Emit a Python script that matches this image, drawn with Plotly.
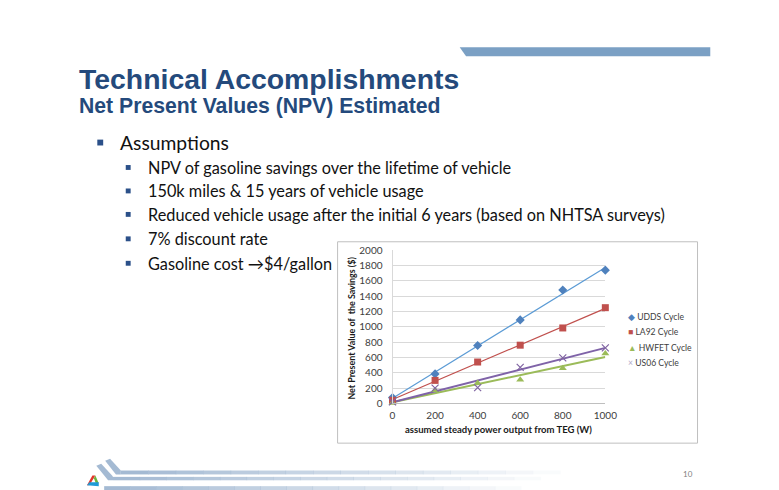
import numpy as np
import plotly.graph_objects as go

W, H = 779, 490

# ---------------- data ----------------
power_w = [0, 200, 400, 600, 800, 1000]
udds = [75, 385, 755, 1090, 1480, 1740]
la92 = [40, 300, 540, 760, 985, 1250]
hwfet = [5, 170, 265, 310, 460, 650]
us06 = [20, 200, 205, 470, 595, 725]

series_names = ["UDDS Cycle", "LA92 Cycle", "HWFET Cycle", "US06 Cycle"]
legend_glyphs = ["\u25C6", "\u25A0", "\u25B2", "\u00D7"]
x_ticks = [0, 200, 400, 600, 800, 1000]
y_ticks = [0, 200, 400, 600, 800, 1000, 1200, 1400, 1600, 1800, 2000]

title_text = "Technical Accomplishments"
subtitle_text = "Net Present Values (NPV) Estimated"
main_bullet = "Assumptions"
sub_bullets = [
    "NPV of gasoline savings over the lifetime of vehicle",
    "150k miles &amp; 15 years of vehicle usage",
    "Reduced vehicle usage after the initial 6 years (based on NHTSA surveys)",
    "7% discount rate",
    "Gasoline cost \u2192$4/gallon",
]
y_title = "Net Present Value of  the Savings ($)"
x_title = "assumed steady power output from TEG (W)"
page_no = "10"


def px(x):
    return x / W


def py(y):
    return 1 - y / H


# ---------------- chart ----------------
fig = go.Figure()

styles = [
    (udds, "#4F81BD", "#5B9BD5", 1.2, dict(symbol="diamond", size=7)),
    (la92, "#C0504D", "#C0504D", 1.2, dict(symbol="square", size=7)),
    (hwfet, "#9BBB59", "#9BBB59", 2.0, dict(symbol="triangle-up", size=7)),
    (us06, "#8064A2", "#7F63A8", 2.0, dict(symbol="x-thin", size=7, line=dict(width=1.2, color="#8064A2"))),
]

for (vals, mcol, lcol, lw, mk), name in zip(styles, series_names):
    slope, icpt = np.polyfit(power_w, vals, 1)
    xs = [min(power_w), max(power_w)]
    fig.add_trace(go.Scatter(x=xs, y=[icpt + slope * v for v in xs], mode="lines",
                             line=dict(color=lcol, width=lw), showlegend=False,
                             hoverinfo="skip", cliponaxis=False))
for (vals, mcol, lcol, lw, mk), name in zip(styles, series_names):
    mk = dict(mk)
    mk["color"] = mcol
    fig.add_trace(go.Scatter(x=power_w, y=vals, mode="markers", name=name,
                             marker=mk, cliponaxis=False, showlegend=False))

font_chart = "Lato, 'Open Sans', sans-serif"

fig.update_layout(
    width=W, height=H,
    margin=dict(l=0, r=0, t=0, b=0),
    paper_bgcolor="white", plot_bgcolor="white",
    showlegend=False,
    xaxis=dict(domain=[px(389), px(606)], range=[0, 1000], tickvals=x_ticks,
               showgrid=False, zeroline=False, showline=True, linecolor="#BFBFBF",
               linewidth=1, ticks="", tickfont=dict(family=font_chart, size=10, color="#404040"),
               ticklabelstandoff=3),
    yaxis=dict(domain=[py(398.3), py(241.7)], range=[0, 2000], tickvals=y_ticks,
               showgrid=True, gridcolor="#D9D9D9", gridwidth=1, zeroline=False,
               showline=True, linecolor="#D9D9D9", ticks="",
               tickfont=dict(family=font_chart, size=10, color="#404040"),
               ticklabelstandoff=7),
)

# ---------------- shapes ----------------
shapes = []
# chart border
shapes.append(dict(type="rect", xref="paper", yref="paper", x0=px(333), x1=px(700),
                   y0=py(439), y1=py(233), line=dict(color="#BFBFBF", width=1)))
# top right bar
shapes.append(dict(type="path", xref="paper", yref="paper",
                   path=f"M {px(457.5)} {py(34)} L {px(713)} {py(34)} L {px(713)} {py(43.3)} L {px(464)} {py(43.3)} Z",
                   fillcolor="#7BA0C4", line=dict(width=0)))
# bullets
shapes.append(dict(type="rect", xref="paper", yref="paper", x0=px(88), x1=px(94),
                   y0=py(134.5), y1=py(128.5), fillcolor="#2B5089", line=dict(width=0)))
sub_y = [157, 181, 205, 230, 255]
for yy in sub_y:
    shapes.append(dict(type="rect", xref="paper", yref="paper", x0=px(117), x1=px(122),
                       y0=py(yy + 2.5), y1=py(yy - 2.5), fillcolor="#2B5089", line=dict(width=0)))

# footer chevrons (slanted parts)
band_col = "#A4BAD3"
shapes.append(dict(type="path", xref="paper", yref="paper",
                   path=f"M {px(96)} {py(457)} L {px(101)} {py(455)} L {px(112)} {py(467)} L {px(112)} {py(471)} L {px(107)} {py(471)} Z",
                   fillcolor=band_col, line=dict(width=0)))
shapes.append(dict(type="path", xref="paper", yref="paper",
                   path=f"M {px(87)} {py(462)} L {px(92)} {py(460)} L {px(104)} {py(473)} L {px(104)} {py(477)} L {px(99)} {py(477)} Z",
                   fillcolor=band_col, line=dict(width=0)))
# horizontal bands fading
segs = 16
for band in [(112, 467, 471, 560), (104, 473.5, 477, 540), (95, 483, 487, 520)]:
    x0, ya, yb, xend = band
    step = (xend - x0) / segs
    for i in range(segs):
        op = max(0.05, 1 - i / segs)
        shapes.append(dict(type="rect", xref="paper", yref="paper",
                           x0=px(x0 + i * step), x1=px(x0 + (i + 1) * step + 0.5),
                           y0=py(yb), y1=py(ya), fillcolor=band_col, opacity=op,
                           line=dict(width=0)))
# logo
shapes.append(dict(type="path", xref="paper", yref="paper",
                   path=f"M {px(83)} {py(472)} L {px(86)} {py(472)} L {px(80)} {py(482)} L {px(77.5)} {py(482)} Z",
                   fillcolor="#E2362C", line=dict(width=0)))
shapes.append(dict(type="path", xref="paper", yref="paper",
                   path=f"M {px(86)} {py(472)} L {px(89.5)} {py(480)} L {px(86.5)} {py(480)} L {px(84.5)} {py(475)} Z",
                   fillcolor="#6CB33F", line=dict(width=0)))
shapes.append(dict(type="path", xref="paper", yref="paper",
                   path=f"M {px(77.5)} {py(482)} L {px(80)} {py(479)} L {px(89.5)} {py(479)} L {px(89.5)} {py(483)} Z",
                   fillcolor="#1E9AD6", line=dict(width=0)))

fig.update_layout(shapes=shapes)

# ---------------- text ----------------
ann = []
title_font = "'Liberation Sans', Arial, sans-serif"
ann.append(dict(text=f"<b>{title_text}</b>", x=px(67), y=py(67), xanchor="left", yanchor="middle",
                font=dict(family=title_font, size=28.4, color="#244A7C")))
ann.append(dict(text=f"<b>{subtitle_text}</b>", x=px(67), y=py(94), xanchor="left", yanchor="middle",
                font=dict(family=title_font, size=21.2, color="#244A7C")))
body_font = "Lato, 'Open Sans', sans-serif"
ann.append(dict(text=main_bullet, x=px(109), y=py(131), xanchor="left", yanchor="middle",
                font=dict(family=body_font, size=19.3, color="#111111")))
for t, yy in zip(sub_bullets, sub_y):
    ann.append(dict(text=t, x=px(138), y=py(yy), xanchor="left", yanchor="middle",
                    font=dict(family=body_font, size=16.3, color="#111111")))
ann.append(dict(text=f"<b>{y_title}</b>", x=px(347.5), y=py(321), xanchor="center", yanchor="middle",
                textangle=-90, font=dict(family=font_chart, size=8.9, color="#1A1A1A")))
ann.append(dict(text=f"<b>{x_title}</b>", x=px(497), y=py(425.5), xanchor="center", yanchor="middle",
                font=dict(family=font_chart, size=9.5, color="#1A1A1A")))
ann.append(dict(text=page_no, x=px(690), y=py(471), xanchor="center", yanchor="middle",
                font=dict(family=body_font, size=8, color="#808080")))
# legend
legend_cols = ["#4F81BD", "#C0504D", "#9BBB59", "#B0A8C8"]
for i, (nm, gl, col) in enumerate(zip(series_names, legend_glyphs, legend_cols)):
    ann.append(dict(text=f"<span style='color:{col}'>{gl}</span> {nm}", x=px(627), y=py(309.5 + 16 * i),
                    xanchor="left", yanchor="middle",
                    font=dict(family=font_chart, size=8.6, color="#404040")))
for a in ann:
    a.update(xref="paper", yref="paper", showarrow=False)
fig.update_layout(annotations=ann)

fig.write_html("out.html")
